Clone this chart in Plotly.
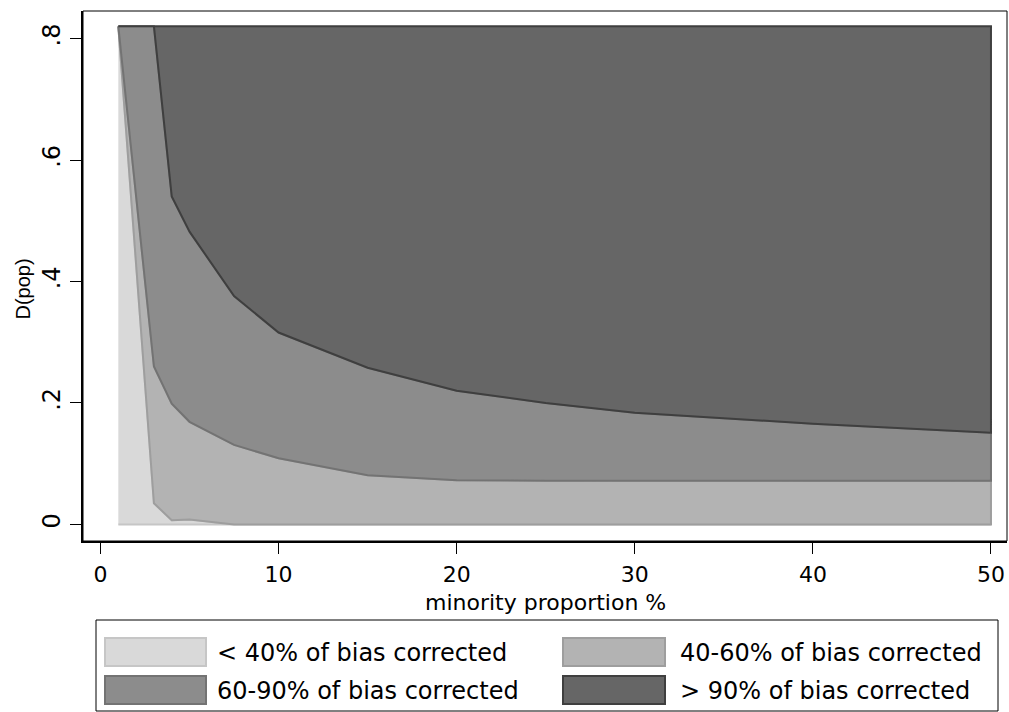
import plotly.graph_objects as go

# ---- data ----
x_prop = [1, 3, 4, 5, 7.5, 10, 15, 20, 25, 30, 40, 50]
d_top = [0.82] * len(x_prop)
bound_40 = [0.82, 0.035, 0.007, 0.008, 0.0, 0.0, 0.0, 0.0, 0.0, 0.0, 0.0, 0.0]
bound_60 = [0.82, 0.26, 0.199, 0.169, 0.131, 0.109, 0.081, 0.073, 0.072, 0.072, 0.072, 0.072]
bound_90 = [0.82, 0.82, 0.54, 0.482, 0.376, 0.316, 0.258, 0.22, 0.2, 0.184, 0.166, 0.151]
d_bottom = [0.0] * len(x_prop)

labels = ["< 40% of bias corrected", "40-60% of bias corrected",
          "60-90% of bias corrected", "> 90% of bias corrected"]
fills = ["#D9D9D9", "#B3B3B3", "#8C8C8C", "#666666"]
lines = ["#C6C6C6", "#9E9E9E", "#737373", "#3F3F3F"]

x_ticks = [0, 10, 20, 30, 40, 50]
y_ticks = [0, 0.2, 0.4, 0.6, 0.8]
y_ticktext = ["0", ".2", ".4", ".6", ".8"]
x_title = "minority proportion %"
y_title = "D(pop)"

bands = [(d_bottom, bound_40), (bound_40, bound_60), (bound_60, bound_90), (bound_90, d_top)]

FONT = "DejaVu Sans, Arial, sans-serif"
FONT_V = "Arial, Liberation Sans, sans-serif"

fig = go.Figure()
for (lo, hi), name, fc, lc in zip(bands, labels, fills, lines):
    fig.add_trace(go.Scatter(
        x=list(x_prop) + list(reversed(x_prop)),
        y=list(lo) + list(reversed(hi)),
        fill="toself", fillcolor=fc, mode="lines",
        line=dict(color=lc, width=2),
        name=name, showlegend=False, hoverinfo="skip"))

W, H = 1009, 712
PL, PR, PT, PB = 83, 1007, 11, 541
def px(v):
    return (v - PL) / (PR - PL)
def py(v):
    return (PB - v) / (PB - PT)

shapes = [
    dict(type="rect", xref="paper", yref="paper", x0=0, x1=1, y0=0, y1=1,
         line=dict(color="black", width=1), fillcolor="rgba(0,0,0,0)", layer="above"),
    dict(type="rect", xref="paper", yref="paper", x0=px(96), x1=px(998), y0=py(711), y1=py(620),
         line=dict(color="black", width=1), fillcolor="white"),
]
annotations = [
    dict(xref="paper", yref="paper", x=0.5, y=py(602), text=x_title, showarrow=False,
         xanchor="center", yanchor="middle", font=dict(family=FONT, size=22, color="black")),
    dict(xref="paper", yref="paper", x=px(22.5), y=py(289), text=y_title, showarrow=False,
         textangle=-90, xanchor="center", yanchor="middle",
         font=dict(family=FONT_V, size=20, color="black")),
]
key_cols = [(105, 206), (563, 665)]
text_x = [215, 678]
rows = [(638, 666), (676, 704)]
for i, name in enumerate(labels):
    r, c = divmod(i, 2)
    (kx0, kx1), (ky0, ky1) = key_cols[c], rows[r]
    shapes.append(dict(type="rect", xref="paper", yref="paper",
                       x0=px(kx0), x1=px(kx1), y0=py(ky1), y1=py(ky0),
                       line=dict(color=lines[i], width=2), fillcolor=fills[i]))
    annotations.append(dict(xref="paper", yref="paper", x=px(text_x[c]), y=py((ky0 + ky1) / 2 + 1),
                            text=name, showarrow=False, xanchor="left", yanchor="middle",
                            font=dict(family=FONT, size=24, color="black")))

fig.update_layout(
    width=W, height=H,
    margin=dict(l=PL, r=W - PR, t=PT, b=H - PB, pad=0),
    paper_bgcolor="white", plot_bgcolor="white",
    font=dict(family=FONT, size=22, color="black"),
    shapes=shapes, annotations=annotations,
    xaxis=dict(range=[-0.983, 50.9], tickvals=x_ticks, ticktext=[str(v) for v in x_ticks],
               ticks="outside", ticklen=11, tickwidth=1, tickcolor="black",
               ticklabelstandoff=2,
               showline=True, linecolor="black", linewidth=2, showgrid=False, zeroline=False,
               tickfont=dict(size=22)),
    yaxis=dict(range=[-0.0272, 0.8453], tickvals=y_ticks, ticktext=y_ticktext,
               ticks="outside", ticklen=11, tickwidth=1, tickcolor="black", tickangle=-90,
               showline=True, linecolor="black", linewidth=2, showgrid=False, zeroline=False,
               tickfont=dict(size=24)),
)

fig.write_html("out.html", config={"displayModeBar": False},
               post_script="document.body.style.margin='0px';document.body.style.overflow='hidden';")
